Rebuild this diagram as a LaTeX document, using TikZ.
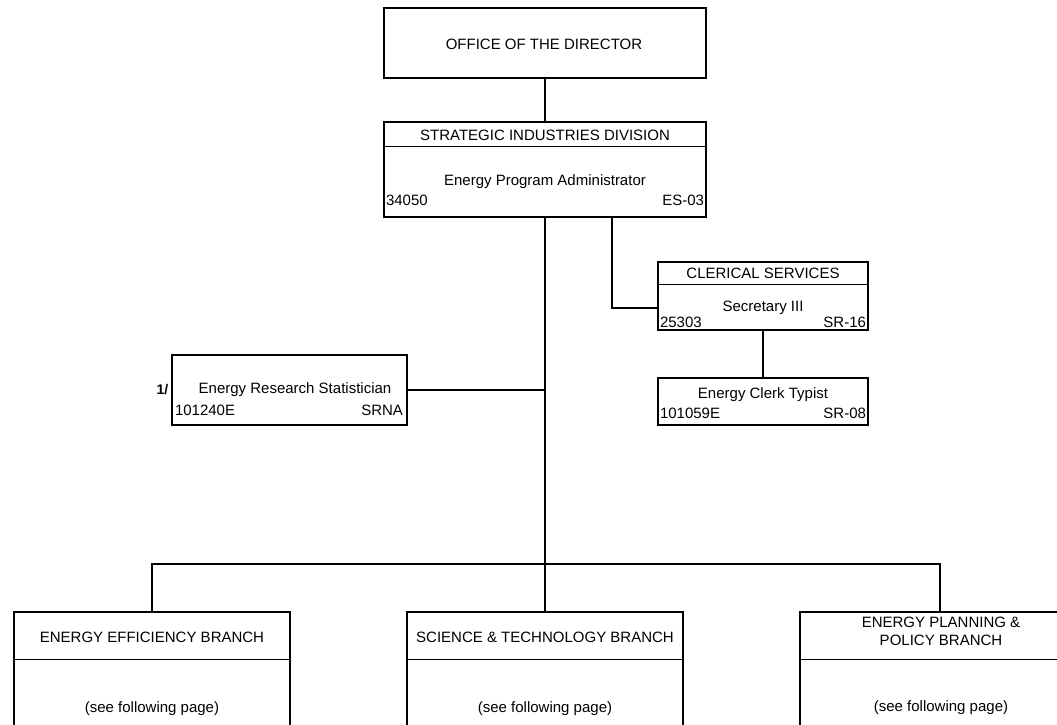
\documentclass[tikz,border=0pt]{standalone}
\usepackage{fontspec}
\setmainfont{Liberation Sans}
\begin{document}
\begin{tikzpicture}[x=1pt,y=-1pt,line width=1.5pt,
  box/.style={draw,rectangle,inner sep=0pt},
  txt/.style={inner sep=0pt,font=\fontsize{15}{17}\selectfont},
  hdr/.style={inner sep=0pt,font=\fontsize{15}{18}\selectfont,align=center}]
\useasboundingbox (0,0) rectangle (1057,725);
\begin{scope}
\clip (0,0) rectangle (1057,725);
% Office of the director
\node[box,minimum width=322pt,minimum height=70pt] (dir) at (545,43) {};
\node[hdr] (dirt) at (544,44) {OFFICE OF THE DIRECTOR};
% Strategic industries division
\node[box,minimum width=322pt,minimum height=95pt] (sid) at (545,169.5) {};
\draw (sid.north west) ++(0,25) coordinate (sidl) -- (sidl -| sid.east);
\node[hdr] (sidh) at (545,135) {STRATEGIC INDUSTRIES DIVISION};
\node[txt] (sidt) at (545,182) {Energy Program Administrator};
\node[txt,anchor=west] (sidc) at ([xshift=2pt]sid.west |- 0,200) {34050};
\node[txt,anchor=east] (sidg) at ([xshift=-2pt]sid.east |- 0,200) {ES-03};
% Clerical services
\node[box,minimum width=210pt,minimum height=68pt] (cler) at (763,296) {};
\draw (cler.north west) ++(0,23) coordinate (clerl) -- (clerl -| cler.east);
\node[hdr] (clerh) at (763,273.5) {CLERICAL SERVICES};
\node[txt] (clert) at (763,308) {Secretary III};
\node[txt,anchor=west] (clerc) at ([xshift=2pt]cler.west |- 0,322) {25303};
\node[txt,anchor=east] (clerg) at ([xshift=-2pt]cler.east |- 0,322) {SR-16};
% Clerk typist
\node[box,minimum width=210pt,minimum height=47pt] (typ) at (763,401.5) {};
\node[txt] (typt) at (763,395) {Energy Clerk Typist};
\node[txt,anchor=west] (typc) at ([xshift=2pt]typ.west |- 0,413) {101059E};
\node[txt,anchor=east] (typg) at ([xshift=-2pt]typ.east |- 0,413) {SR-08};
% Statistician
\node[box,minimum width=235pt,minimum height=70pt] (stat) at (289.5,390) {};
\node[txt] (statt) at (295,390) {Energy Research Statistician};
\node[txt,anchor=west] (statc) at ([xshift=3pt]stat.west |- 0,410) {101240E};
\node[txt,anchor=east] (statg) at ([xshift=-4pt]stat.east |- 0,410) {SRNA};
\node[txt,anchor=east,font=\fontsize{14}{16}\selectfont\bfseries] (note) at (169,390) {1/};
% Branches
\node[box,minimum width=276pt,minimum height=120pt] (b1) at (152,672) {};
\node[box,minimum width=276pt,minimum height=120pt] (b2) at (545,672) {};
\node[box,minimum width=280pt,minimum height=120pt] (b3) at (940,672) {};
\foreach \b in {b1,b2,b3}{
  \draw (\b.north west) ++(0,48) coordinate (\b l) -- (\b l -| \b.east);
}
\node[hdr] (b1h) at (152,637) {ENERGY EFFICIENCY BRANCH};
\node[hdr] (b2h) at (545,637) {SCIENCE \& TECHNOLOGY BRANCH};
\node[hdr] (b3h) at (941,631) {ENERGY PLANNING \&\\POLICY BRANCH};
\node[txt] (b1t) at (152,709) {(see following page)};
\node[txt] (b2t) at (545,709) {(see following page)};
\node[txt] (b3t) at (941,708) {(see following page)};
% Connectors
\draw (dir.south) -- (sid.north);
\coordinate (bus) at (545,564);
\draw (sid.south) -- (bus);
\draw (bus) -- (b2.north);
\draw (b1.north) |- (bus) -| (b3.north);
\draw (stat.east) -- (stat.east -| sid.south);
\coordinate (cj) at (612,308);
\draw (sid.south -| cj) |- (cj -| cler.west);
\draw (cler.south) -- (typ.north);
\end{scope}
\end{tikzpicture}
\end{document}
